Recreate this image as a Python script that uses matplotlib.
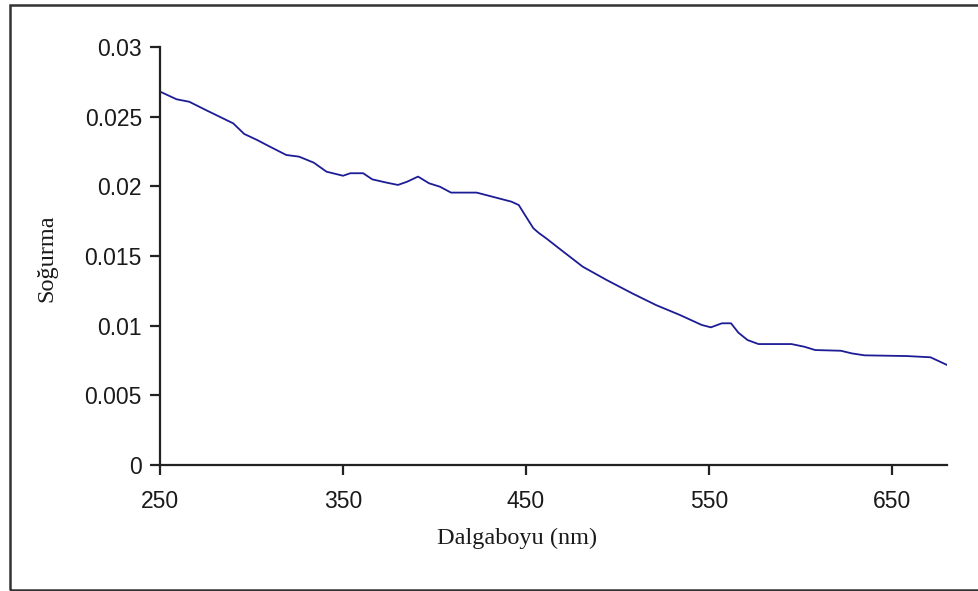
import matplotlib
matplotlib.use("Agg")
import matplotlib.pyplot as plt
from matplotlib.patches import Rectangle

# Absorption spectrum: wavelength (nm) vs absorbance
wavelength = [250, 259, 266, 275, 290, 296, 303, 310, 319, 326, 334, 341, 350,
              354, 361, 366, 374, 380, 385, 391, 397, 403, 409, 423, 428, 435,
              442, 446, 450, 454, 457, 461, 468, 481, 494, 508, 521, 534, 546,
              551, 557, 562, 566, 571, 577, 595, 602, 608, 622, 628, 635, 658,
              671, 680]
absorbance = [0.0268, 0.02625, 0.02607, 0.02548, 0.02452, 0.02376, 0.02333,
              0.02285, 0.02225, 0.02213, 0.0217, 0.02105, 0.02076, 0.02094,
              0.02094, 0.0205, 0.02026, 0.0201, 0.02033, 0.0207, 0.02022,
              0.01997, 0.01955, 0.01955, 0.01938, 0.01914, 0.0189, 0.01866,
              0.01782, 0.01699, 0.01665, 0.01627, 0.01555, 0.01423, 0.01328,
              0.01232, 0.01148, 0.01077, 0.01005, 0.00988, 0.01017, 0.01017,
              0.0095, 0.00897, 0.00868, 0.00868, 0.00849, 0.00825, 0.0082,
              0.00801, 0.00787, 0.00782, 0.00773, 0.00718]

x_ticks = [250, 350, 450, 550, 650]
y_ticks = [0, 0.005, 0.01, 0.015, 0.02, 0.025, 0.03]
y_tick_labels = ["0", "0.005", "0.01", "0.015", "0.02", "0.025", "0.03"]

W, H = 979, 591
fig = plt.figure(figsize=(W / 100, H / 100), dpi=100)
fig.patch.set_facecolor("white")

# chart area border (open to the right)
fig.patches.append(Rectangle((10 / W, 1 / H), 1.2, (585) / H,
                             transform=fig.transFigure, fill=False,
                             edgecolor="#333333", linewidth=1.8))

ax = fig.add_axes([160 / W, 1 - 465 / H, (947 - 160) / W, (465 - 47) / H])
ax.plot(wavelength, absorbance, color="#1c1c96", linewidth=1.3)

ax.set_xlim(250, 680)
ax.set_ylim(0, 0.03)
ax.set_xticks(x_ticks)
ax.set_yticks(y_ticks)
ax.set_yticklabels(y_tick_labels)

for side in ("top", "right"):
    ax.spines[side].set_visible(False)
for side in ("left", "bottom"):
    ax.spines[side].set_linewidth(1.6)
    ax.spines[side].set_color("#222222")

tick_font = dict(family=["Liberation Sans", "DejaVu Sans"], size=16.5)
ax.tick_params(axis="both", direction="out", width=1.6, color="#222222")
ax.tick_params(axis="x", length=7, pad=11)
ax.tick_params(axis="y", length=7, pad=6)
for lbl in ax.get_xticklabels() + ax.get_yticklabels():
    lbl.set_fontfamily(tick_font["family"])
    lbl.set_fontsize(tick_font["size"])
    lbl.set_color("#1a1a1a")

label_font = dict(family=["Liberation Serif", "DejaVu Serif"], size=17.5,
                  color="#1a1a1a")
fig.text(517 / W, 1 - 538 / H, "Dalgaboyu (nm)", ha="center", va="center",
         **label_font)
fig.text(47 / W, 1 - 258 / H, "Soğurma", ha="center", va="center",
         rotation=90, **label_font)

fig.savefig("out.png", dpi=100, facecolor="white")
